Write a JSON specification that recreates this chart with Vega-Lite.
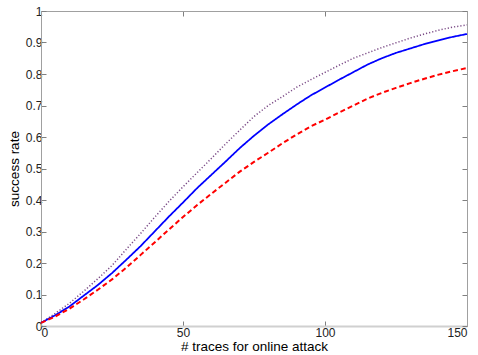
{
  "$schema": "https://vega.github.io/schema/vega-lite/v6.json",
  "width": 426,
  "height": 315,
  "autosize": {"type": "none"},
  "padding": {"left": 41, "top": 11, "right": 11, "bottom": 29},
  "background": "white",
  "config": {
    "view": {"stroke": "#a0a0a0", "strokeWidth": 1},
    "font": "Liberation Sans",
    "axis": {
      "grid": false,
      "domainColor": "#a0a0a0",
      "tickColor": "#808080",
      "tickSize": -5,
      "labelColor": "#222222",
      "labelFont": "Liberation Sans",
      "labelFontSize": 12,
      "titleFont": "Liberation Sans",
      "titleFontSize": 13.5,
      "titleFontWeight": "normal",
      "titleColor": "#000000"
    }
  },
  "data": {
    "values": [
      {"x": 0, "y": 0.01, "s": "dotted"}, {"x": 5, "y": 0.04, "s": "dotted"}, {"x": 10, "y": 0.072, "s": "dotted"}, {"x": 15, "y": 0.11, "s": "dotted"}, {"x": 20, "y": 0.15, "s": "dotted"}, {"x": 25, "y": 0.192, "s": "dotted"}, {"x": 30, "y": 0.243, "s": "dotted"}, {"x": 35, "y": 0.293, "s": "dotted"}, {"x": 40, "y": 0.345, "s": "dotted"}, {"x": 45, "y": 0.395, "s": "dotted"}, {"x": 50, "y": 0.442, "s": "dotted"}, {"x": 55, "y": 0.487, "s": "dotted"}, {"x": 60, "y": 0.532, "s": "dotted"}, {"x": 65, "y": 0.578, "s": "dotted"}, {"x": 70, "y": 0.622, "s": "dotted"}, {"x": 75, "y": 0.665, "s": "dotted"}, {"x": 80, "y": 0.7, "s": "dotted"}, {"x": 85, "y": 0.728, "s": "dotted"}, {"x": 90, "y": 0.758, "s": "dotted"}, {"x": 95, "y": 0.782, "s": "dotted"}, {"x": 100, "y": 0.805, "s": "dotted"}, {"x": 105, "y": 0.828, "s": "dotted"}, {"x": 110, "y": 0.85, "s": "dotted"}, {"x": 115, "y": 0.867, "s": "dotted"}, {"x": 120, "y": 0.884, "s": "dotted"}, {"x": 125, "y": 0.899, "s": "dotted"}, {"x": 130, "y": 0.914, "s": "dotted"}, {"x": 135, "y": 0.927, "s": "dotted"}, {"x": 140, "y": 0.939, "s": "dotted"}, {"x": 145, "y": 0.949, "s": "dotted"}, {"x": 150, "y": 0.956, "s": "dotted"},
      {"x": 0, "y": 0.01, "s": "solid"}, {"x": 5, "y": 0.034, "s": "solid"}, {"x": 10, "y": 0.062, "s": "solid"}, {"x": 15, "y": 0.096, "s": "solid"}, {"x": 20, "y": 0.13, "s": "solid"}, {"x": 25, "y": 0.168, "s": "solid"}, {"x": 30, "y": 0.21, "s": "solid"}, {"x": 35, "y": 0.253, "s": "solid"}, {"x": 40, "y": 0.3, "s": "solid"}, {"x": 45, "y": 0.347, "s": "solid"}, {"x": 50, "y": 0.392, "s": "solid"}, {"x": 55, "y": 0.438, "s": "solid"}, {"x": 60, "y": 0.48, "s": "solid"}, {"x": 65, "y": 0.522, "s": "solid"}, {"x": 70, "y": 0.565, "s": "solid"}, {"x": 75, "y": 0.604, "s": "solid"}, {"x": 80, "y": 0.64, "s": "solid"}, {"x": 85, "y": 0.672, "s": "solid"}, {"x": 90, "y": 0.703, "s": "solid"}, {"x": 95, "y": 0.732, "s": "solid"}, {"x": 100, "y": 0.757, "s": "solid"}, {"x": 105, "y": 0.782, "s": "solid"}, {"x": 110, "y": 0.806, "s": "solid"}, {"x": 115, "y": 0.83, "s": "solid"}, {"x": 120, "y": 0.85, "s": "solid"}, {"x": 125, "y": 0.867, "s": "solid"}, {"x": 130, "y": 0.881, "s": "solid"}, {"x": 135, "y": 0.895, "s": "solid"}, {"x": 140, "y": 0.907, "s": "solid"}, {"x": 145, "y": 0.918, "s": "solid"}, {"x": 150, "y": 0.927, "s": "solid"},
      {"x": 0, "y": 0.01, "s": "dashed"}, {"x": 5, "y": 0.03, "s": "dashed"}, {"x": 10, "y": 0.055, "s": "dashed"}, {"x": 15, "y": 0.084, "s": "dashed"}, {"x": 20, "y": 0.115, "s": "dashed"}, {"x": 25, "y": 0.148, "s": "dashed"}, {"x": 30, "y": 0.185, "s": "dashed"}, {"x": 35, "y": 0.225, "s": "dashed"}, {"x": 40, "y": 0.265, "s": "dashed"}, {"x": 45, "y": 0.306, "s": "dashed"}, {"x": 50, "y": 0.346, "s": "dashed"}, {"x": 55, "y": 0.384, "s": "dashed"}, {"x": 60, "y": 0.42, "s": "dashed"}, {"x": 65, "y": 0.455, "s": "dashed"}, {"x": 70, "y": 0.49, "s": "dashed"}, {"x": 75, "y": 0.521, "s": "dashed"}, {"x": 80, "y": 0.55, "s": "dashed"}, {"x": 85, "y": 0.58, "s": "dashed"}, {"x": 90, "y": 0.608, "s": "dashed"}, {"x": 95, "y": 0.634, "s": "dashed"}, {"x": 100, "y": 0.655, "s": "dashed"}, {"x": 105, "y": 0.678, "s": "dashed"}, {"x": 110, "y": 0.7, "s": "dashed"}, {"x": 115, "y": 0.722, "s": "dashed"}, {"x": 120, "y": 0.74, "s": "dashed"}, {"x": 125, "y": 0.756, "s": "dashed"}, {"x": 130, "y": 0.771, "s": "dashed"}, {"x": 135, "y": 0.785, "s": "dashed"}, {"x": 140, "y": 0.798, "s": "dashed"}, {"x": 145, "y": 0.809, "s": "dashed"}, {"x": 150, "y": 0.819, "s": "dashed"}
    ]
  },
  "resolve": {"axis": {"x": "independent", "y": "independent"}},
  "layer": [
    {
      "mark": {"type": "line", "strokeCap": "butt"},
      "encoding": {
        "x": {"field": "x", "type": "quantitative", "scale": {"domain": [0, 150], "nice": false},
              "axis": {"orient": "bottom", "values": [0, 50, 100, 150], "format": "d", "title": "# traces for online attack", "labelPadding": 6, "titlePadding": 1, "domainWidth": 2, "domainColor": "#d0d0d0"}},
        "y": {"field": "y", "type": "quantitative", "scale": {"domain": [0, 1], "nice": false},
              "axis": {"orient": "left", "values": [0, 0.1, 0.2, 0.3, 0.4, 0.5, 0.6, 0.7, 0.8, 0.9, 1], "format": "~g", "title": "success rate", "labelPadding": 4, "titlePadding": 4}},
        "color": {"field": "s", "type": "nominal", "legend": null,
                  "scale": {"domain": ["dotted", "solid", "dashed"], "range": ["#7a4a86", "#0000ff", "#ff0000"]}},
        "strokeDash": {"field": "s", "type": "nominal", "legend": null,
                  "scale": {"domain": ["dotted", "solid", "dashed"], "range": [[1.2, 2], [1, 0], [5, 3]]}},
        "strokeWidth": {"field": "s", "type": "nominal", "legend": null,
                  "scale": {"domain": ["dotted", "solid", "dashed"], "range": [1.5, 2, 2]}}
      }
    },
    {
      "mark": {"type": "point", "opacity": 0},
      "encoding": {
        "x": {"field": "x", "type": "quantitative", "axis": {"orient": "top", "values": [0, 50, 100, 150], "labels": false, "title": null}},
        "y": {"field": "y", "type": "quantitative", "axis": {"orient": "right", "values": [0, 0.1, 0.2, 0.3, 0.4, 0.5, 0.6, 0.7, 0.8, 0.9, 1], "labels": false, "title": null}}
      }
    }
  ]
}
